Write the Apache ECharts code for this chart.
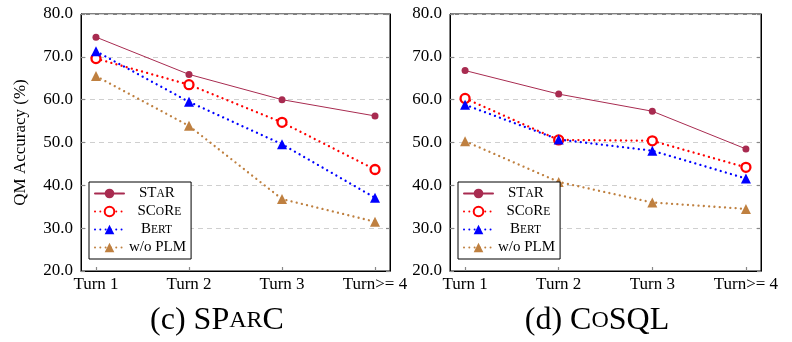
<!DOCTYPE html>
<html><head><meta charset="utf-8">
<script src="https://cdn.jsdelivr.net/npm/echarts@6/dist/echarts.min.js"></script>
<style>html,body{margin:0;padding:0;background:#fff}#c{width:792px;height:342px}</style>
</head><body><div id="c"></div>
<script>
const categories = ['Turn 1', 'Turn 2', 'Turn 3', 'Turn>= 4'];
const yTicks = [20, 30, 40, 50, 60, 70, 80];
// SParC
const sparcStar  = [74.6, 65.9, 60.0, 56.2];
const sparcScore = [69.6, 63.5, 54.7, 43.7];
const sparcBert  = [71.3, 59.5, 49.6, 37.1];
const sparcNoPlm = [65.5, 53.9, 36.8, 31.5];
// CoSQL
const cosqlStar  = [66.8, 61.3, 57.3, 48.5];
const cosqlScore = [60.3, 50.6, 50.4, 44.2];
const cosqlBert  = [58.8, 50.7, 48.1, 41.6];
const cosqlNoPlm = [50.3, 40.8, 36.0, 34.5];

const FONT = 'Liberation Serif';
const names = ['STaR', 'SCoRe', 'BERT', 'w/o PLM'];
const legendRich = {
  STaR: '{p10| }ST{s|A}R',
  SCoRe: '{p9| }SC{s|O}R{s|E}',
  BERT: '{p12| }B{s|ERT}',
  'w/o PLM': 'w/o PLM'
};
const styles = {
  'STaR':   {color: '#A82B50', symbol: 'circle', size: 7, line: {width: 1, type: 'solid'}, hollow: false},
  'SCoRe':  {color: '#FF0000', symbol: 'circle', size: 9, line: {width: 2.3, type: [0.01, 5.3]}, hollow: true},
  'BERT':   {color: '#0000FF', symbol: 'triangle', size: 10, line: {width: 2.3, type: [0.01, 5.3]}, hollow: false},
  'w/o PLM':{color: '#BF8040', symbol: 'triangle', size: 10, line: {width: 2.3, type: [0.01, 5.3]}, hollow: false}
};

function mk(name, arr, gi) {
  const s = styles[name];
  return {
    name: name, type: 'line', xAxisIndex: gi, yAxisIndex: gi * 2,
    data: arr.map((v, i) => [i, v]),
    symbol: s.symbol, symbolSize: s.size, showSymbol: true,
    lineStyle: {color: s.color, width: s.line.width, type: s.line.type, cap: 'round'},
    itemStyle: s.hollow ? {color: '#fff', borderColor: s.color, borderWidth: 2.3}
                        : {color: s.color, borderWidth: 0},
    animation: false, z: 3
  };
}

const grids = [
  {left: 81, top: 14, width: 309, height: 257, show: true, borderColor: '#000', borderWidth: 1},
  {left: 450, top: 14, width: 311, height: 257, show: true, borderColor: '#000', borderWidth: 1}
];
function xAx(gi) {
  return {
    type: 'value', gridIndex: gi, min: -0.161, max: 3.161,
    axisLine: {show: true, onZero: false, lineStyle: {color: '#000', width: 1}},
    axisTick: {show: true, inside: true, length: 4, customValues: [0, 1, 2, 3], lineStyle: {color: '#888', width: 1.2}},
    axisLabel: {customValues: [0, 1, 2, 3], formatter: v => categories[Math.round(v)], fontFamily: FONT, fontSize: 17, color: '#000', margin: 5},
    splitLine: {show: false}
  };
}
function yAx(gi, right) {
  return {
    type: 'value', gridIndex: gi, min: 20, max: 80, interval: 10, position: right ? 'right' : 'left',
    name: (!right && gi === 0) ? 'QM Accuracy (%)' : '',
    nameLocation: 'middle', nameGap: 52, nameRotate: 90,
    nameTextStyle: {fontFamily: FONT, fontSize: 17, color: '#000'},
    axisLine: {show: true, onZero: false, lineStyle: {color: '#000', width: 1}},
    axisTick: {show: true, inside: true, length: 4, lineStyle: {color: '#888', width: 1.2}},
    axisLabel: {show: !right, formatter: v => v.toFixed(1), fontFamily: FONT, fontSize: 17, color: '#000', margin: 8},
    splitLine: {show: !right, lineStyle: {color: '#cfcfcf', type: [5, 4], width: 1}}
  };
}
function legend(left) {
  return {
    orient: 'vertical', left: left, top: 182, data: names,
    backgroundColor: '#fff', borderColor: '#000', borderWidth: 1,
    padding: [4, 5, 4, 5], itemGap: 3, itemWidth: 29, itemHeight: 12,
    formatter: n => legendRich[n],
    textStyle: {fontFamily: FONT, fontSize: 15, color: '#000', width: 58,
      rich: {
        s: {fontFamily: FONT, fontSize: 11.5, color: '#000'},
        p10: {width: 10, fontSize: 15}, p9: {width: 8.5, fontSize: 15}, p12: {width: 12, fontSize: 15}
      }},
    selectedMode: false, z: 10
  };
}

const chart = echarts.init(document.getElementById('c'), null, {renderer: 'canvas'});
chart.setOption({
  animation: false,
  grid: grids,
  xAxis: [xAx(0), xAx(1)],
  yAxis: [yAx(0, false), yAx(0, true), yAx(1, false), yAx(1, true)],
  legend: [legend(89), legend(458)],
  title: [
    {text: '(c) SP{s|AR}C', left: 212, top: 300, textAlign: 'center',
     textStyle: {fontFamily: FONT, fontSize: 32, fontWeight: 'normal', color: '#000',
       rich: {s: {fontFamily: FONT, fontSize: 24, color: '#000'}}}},
    {text: '(d) C{s|O}SQL', left: 592, top: 300, textAlign: 'center',
     textStyle: {fontFamily: FONT, fontSize: 32, fontWeight: 'normal', color: '#000',
       rich: {s: {fontFamily: FONT, fontSize: 24, color: '#000'}}}}
  ],
  series: [
    mk('STaR', sparcStar, 0), mk('SCoRe', sparcScore, 0), mk('BERT', sparcBert, 0), mk('w/o PLM', sparcNoPlm, 0),
    mk('STaR', cosqlStar, 1), mk('SCoRe', cosqlScore, 1), mk('BERT', cosqlBert, 1), mk('w/o PLM', cosqlNoPlm, 1)
  ]
});
</script></body></html>
